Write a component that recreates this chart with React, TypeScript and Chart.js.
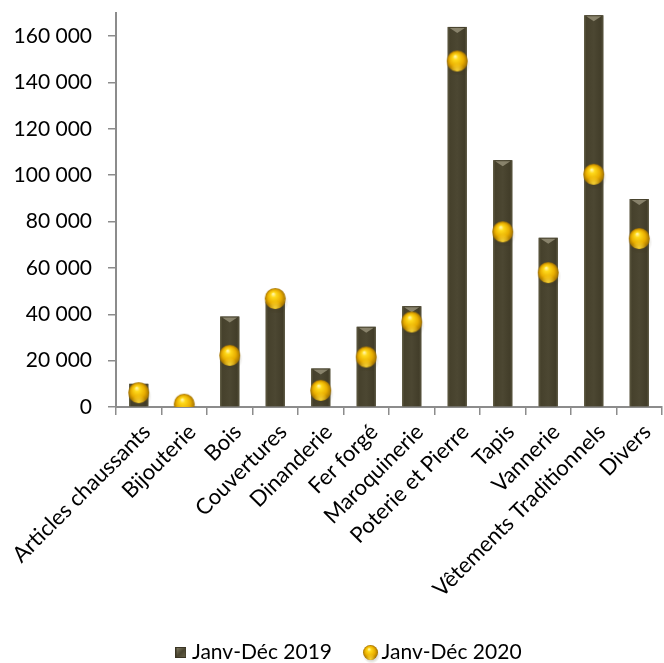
import React, { useEffect, useRef } from "react";
import { Chart, registerables } from "chart.js";

Chart.register(...registerables);

const categories = [
  "Articles chaussants",
  "Bijouterie",
  "Bois",
  "Couvertures",
  "Dinanderie",
  "Fer forgé",
  "Maroquinerie",
  "Poterie et Pierre",
  "Tapis",
  "Vannerie",
  "Vêtements Traditionnels",
  "Divers",
];
const values2019 = [10000, 300, 39000, 45500, 16600, 34600, 43500, 164000, 106500, 73000, 169000, 89700];
const values2020 = [6200, 1200, 22300, 46800, 7200, 21600, 36700, 149300, 75600, 58000, 100400, 72700];
const seriesNames = ["Janv-Déc 2019", "Janv-Déc 2020"];
const yTicks = [0, 20000, 40000, 60000, 80000, 100000, 120000, 140000, 160000];

const FONT = "Lato, 'Open Sans', sans-serif";

function makeBall(d: number): HTMLCanvasElement {
  const s = Math.ceil(d + 8);
  const c = document.createElement("canvas");
  c.width = s;
  c.height = s;
  const g = c.getContext("2d")!;
  const cx = s / 2;
  const cy = s / 2;
  const r = d / 2;
  const sh = g.createRadialGradient(cx + 1, cy + r * 0.35, r * 0.3, cx + 1, cy + r * 0.35, r * 1.15);
  sh.addColorStop(0, "rgba(60,50,20,0.35)");
  sh.addColorStop(1, "rgba(60,50,20,0)");
  g.fillStyle = sh;
  g.beginPath();
  g.arc(cx + 1, cy + r * 0.35, r * 1.15, 0, Math.PI * 2);
  g.fill();
  const gr = g.createRadialGradient(cx - r * 0.2, cy - r * 0.45, r * 0.05, cx, cy, r);
  gr.addColorStop(0, "#fff6a8");
  gr.addColorStop(0.22, "#ffd91a");
  gr.addColorStop(0.65, "#e8ad00");
  gr.addColorStop(1, "#a07000");
  g.fillStyle = gr;
  g.beginPath();
  g.arc(cx, cy, r, 0, Math.PI * 2);
  g.fill();
  const rim = g.createRadialGradient(cx, cy + r * 0.9, r * 0.1, cx, cy + r * 0.9, r * 0.7);
  rim.addColorStop(0, "rgba(255,220,60,0.8)");
  rim.addColorStop(1, "rgba(255,220,60,0)");
  g.save();
  g.beginPath();
  g.arc(cx, cy, r, 0, Math.PI * 2);
  g.clip();
  g.fillStyle = rim;
  g.fillRect(0, 0, s, s);
  g.restore();
  return c;
}

function makeBox(w: number): HTMLCanvasElement {
  const c = document.createElement("canvas");
  c.width = w;
  c.height = w;
  const g = c.getContext("2d")!;
  const gr = g.createLinearGradient(0, 0, w, w);
  gr.addColorStop(0, "#8c8870");
  gr.addColorStop(0.5, "#4a4530");
  gr.addColorStop(1, "#6a654c");
  g.fillStyle = gr;
  g.fillRect(0, 0, w, w);
  g.strokeStyle = "#3a3524";
  g.strokeRect(0.5, 0.5, w - 1, w - 1);
  return c;
}

const barStylePlugin = {
  id: "barStyle",
  afterLayout(chart: any) {
    if (chart.legend) {
      chart.legend.left += 14.5;
      chart.legend.right += 14.5;
    }
  },
  afterDatasetDraw(chart: any, args: any) {
    if (args.index !== 0) return;
    const ctx = chart.ctx;
    const meta = args.meta;
    ctx.save();
    meta.data.forEach((bar: any) => {
      const w = bar.width;
      const left = bar.x - w / 2;
      const top = Math.min(bar.y, bar.base);
      const h = Math.abs(bar.base - bar.y);
      if (h < 1) return;
      const gr = ctx.createLinearGradient(left, 0, left + w, 0);
      gr.addColorStop(0, "#5e5a42");
      gr.addColorStop(0.12, "#46412c");
      gr.addColorStop(0.5, "#4c4732");
      gr.addColorStop(0.88, "#423d29");
      gr.addColorStop(1, "#5a5640");
      ctx.fillStyle = gr;
      ctx.fillRect(left, top, w, h);
      if (h > 8) {
        ctx.fillStyle = "rgba(170,165,140,0.65)";
        ctx.beginPath();
        ctx.moveTo(left + 2, top + 1);
        ctx.lineTo(left + w - 2, top + 1);
        ctx.lineTo(bar.x, top + 6);
        ctx.closePath();
        ctx.fill();
      }
    });
    ctx.restore();
  },
};

export default function App() {
  const ref = useRef<HTMLCanvasElement>(null);
  useEffect(() => {
    const ball = makeBall(21);
    const legendBall = makeBall(15);
    const legendBox = makeBox(11);
    const chart = new Chart(ref.current!, {
      type: "bar",
      data: {
        labels: categories,
        datasets: [
          {
            type: "bar",
            label: seriesNames[0],
            data: values2019,
            backgroundColor: "#4a4530",
            barPercentage: 0.42,
            categoryPercentage: 1,
            order: 2,
          },
          {
            type: "line",
            label: seriesNames[1],
            data: values2020,
            showLine: false,
            pointStyle: ball as any,
            pointRadius: 10,
            backgroundColor: "#f0c000",
            order: 1,
          },
        ],
      },
      options: {
        responsive: false,
        animation: false,
        layout: { padding: { top: 13, left: 0, right: 0, bottom: 0 } },
        plugins: {
          tooltip: { enabled: false },
          legend: {
            position: "bottom",
            labels: {
              usePointStyle: true,
              boxWidth: 1,
              boxHeight: 12,
              padding: 38,
              color: "#000",
              font: { family: FONT, size: 21 },
              generateLabels: () => [
                { text: seriesNames[0], pointStyle: legendBox as any, fillStyle: "#4a4530", strokeStyle: "#4a4530", lineWidth: 0, hidden: false, datasetIndex: 0 },
                { text: seriesNames[1], pointStyle: legendBall as any, fillStyle: "#f0c000", strokeStyle: "#f0c000", lineWidth: 0, hidden: false, datasetIndex: 1 },
              ],
            },
          },
        },
        scales: {
          x: {
            offset: true,
            grid: { offset: true, drawOnChartArea: false, drawTicks: true, tickLength: 8, color: "#8c8c8c", lineWidth: 1.5 },
            border: { color: "#8c8c8c", width: 2 },
            ticks: {
              autoSkip: false,
              minRotation: 45,
              maxRotation: 45,
              padding: 4,
              labelOffset: 8,
              color: "#000",
              font: { family: FONT, size: 22 },
            },
            afterFit: (s: any) => {
              s.height = 197;
              s.paddingLeft = 0;
              s.paddingRight = 0;
            },
          },
          y: {
            min: 0,
            max: 170000,
            grid: { drawOnChartArea: false, drawTicks: true, tickLength: 8, color: "#8c8c8c", lineWidth: 1.5 },
            border: { color: "#8c8c8c", width: 2 },
            afterBuildTicks: (s: any) => {
              s.ticks = yTicks.map((v) => ({ value: v }));
            },
            ticks: {
              padding: 16,
              color: "#000",
              font: { family: FONT, size: 21 },
              callback: (v: any) => String(v).replace(/\B(?=(\d{3})+(?!\d))/g, " "),
            },
            afterFit: (s: any) => {
              s.width = 116;
              s.paddingTop = 0;
              s.paddingBottom = 0;
            },
          },
        },
      },
      plugins: [barStylePlugin],
    });
    return () => chart.destroy();
  }, []);
  return (
    <div style={{ position: "absolute", left: 0, top: 0, width: 664, height: 663, overflow: "hidden", background: "#fff" }}>
      <canvas ref={ref} width={673} height={673} style={{ display: "block" }} />
    </div>
  );
}
